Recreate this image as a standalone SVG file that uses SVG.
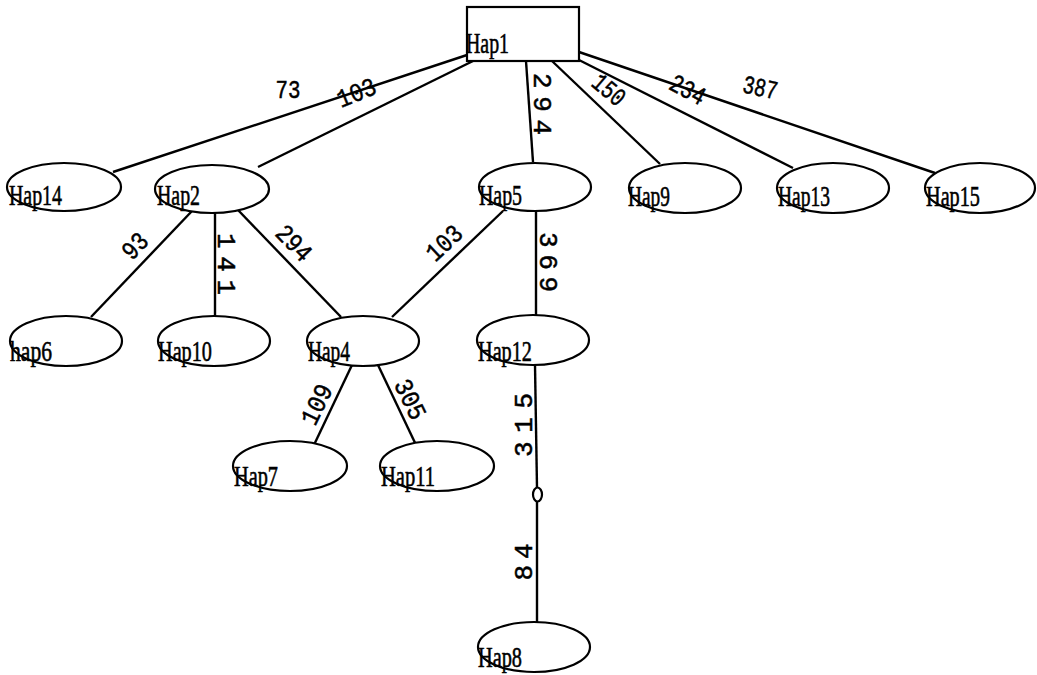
<svg xmlns="http://www.w3.org/2000/svg" width="1037" height="675" viewBox="0 0 1037 675">
<style>
.node{fill:#fff;stroke:#000;stroke-width:2.2}
.lbl{font-family:"Liberation Serif",serif;font-size:30px;fill:#000;stroke:#000;stroke-width:0.6}
.edge{stroke:#000;stroke-width:2.4;fill:none}
.num{font-family:"Liberation Mono",monospace;font-size:26px;fill:#000;stroke:#000;stroke-width:0.5;text-anchor:middle;dominant-baseline:central}
</style>
<rect width="1037" height="675" fill="#fff"/>
<g id="connectors">
<line class="edge" x1="467" y1="55" x2="113" y2="172"/>
<line class="edge" x1="473" y1="61" x2="258" y2="167"/>
<line class="edge" x1="526" y1="61" x2="533" y2="162"/>
<line class="edge" x1="552" y1="61" x2="660" y2="164"/>
<line class="edge" x1="579" y1="60" x2="793" y2="168"/>
<line class="edge" x1="579" y1="52" x2="935" y2="173"/>
<line class="edge" x1="192" y1="211" x2="91" y2="317"/>
<line class="edge" x1="215" y1="212" x2="215" y2="316"/>
<line class="edge" x1="238" y1="210" x2="341" y2="317"/>
<line class="edge" x1="503" y1="211" x2="392" y2="317"/>
<line class="edge" x1="536" y1="212" x2="536" y2="316"/>
<line class="edge" x1="352" y1="365" x2="303" y2="468"/>
<line class="edge" x1="378" y1="365" x2="427" y2="468"/>
<line class="edge" x1="535" y1="365" x2="537" y2="488"/>
<line class="edge" x1="537" y1="501" x2="537" y2="622"/>
<ellipse class="node" cx="537.5" cy="494.5" rx="4.5" ry="7"/>
<text class="num" transform="translate(288,91)" textLength="25" lengthAdjust="spacingAndGlyphs">73</text>
<text class="num" transform="translate(357,94) rotate(-22)" textLength="40" lengthAdjust="spacingAndGlyphs">103</text>
<text class="num" transform="translate(541,104) rotate(90)" textLength="62" lengthAdjust="spacing">294</text>
<text class="num" transform="translate(608,91) rotate(40)" textLength="35" lengthAdjust="spacingAndGlyphs">150</text>
<text class="num" transform="translate(687,91) rotate(28)" textLength="37" lengthAdjust="spacingAndGlyphs">234</text>
<text class="num" transform="translate(760,89) rotate(12)" textLength="35" lengthAdjust="spacingAndGlyphs">387</text>
<text class="num" transform="translate(136,247) rotate(-46)" textLength="26" lengthAdjust="spacingAndGlyphs">93</text>
<text class="num" transform="translate(225,264) rotate(90)" textLength="62" lengthAdjust="spacing">141</text>
<text class="num" transform="translate(293,244) rotate(46)" textLength="40" lengthAdjust="spacingAndGlyphs">294</text>
<text class="num" transform="translate(445,244) rotate(-43)" textLength="40" lengthAdjust="spacingAndGlyphs">103</text>
<text class="num" transform="translate(547,262) rotate(90)" textLength="60" lengthAdjust="spacing">369</text>
<text class="num" transform="translate(318,405) rotate(-64)" textLength="42" lengthAdjust="spacingAndGlyphs">109</text>
<text class="num" transform="translate(409,400) rotate(64)" textLength="42" lengthAdjust="spacingAndGlyphs">305</text>
<text class="num" transform="translate(525,425) rotate(-90)" textLength="64" lengthAdjust="spacing">315</text>
<text class="num" transform="translate(525,562) rotate(-90)" textLength="37" lengthAdjust="spacing">84</text>
</g>
<g id="Hap1"><rect class="node" x="467" y="7" width="112" height="54"/><text class="lbl" x="466" y="53" textLength="43" lengthAdjust="spacingAndGlyphs">Hap1</text></g>
<g id="Hap14"><ellipse class="node" cx="64" cy="187" rx="57" ry="24"/><text class="lbl" x="9" y="205" textLength="53" lengthAdjust="spacingAndGlyphs">Hap14</text></g>
<g id="Hap2"><ellipse class="node" cx="212" cy="189" rx="57" ry="24"/><text class="lbl" x="157" y="205" textLength="43" lengthAdjust="spacingAndGlyphs">Hap2</text></g>
<g id="Hap5"><ellipse class="node" cx="535" cy="187" rx="56" ry="24"/><text class="lbl" x="479" y="205" textLength="43" lengthAdjust="spacingAndGlyphs">Hap5</text></g>
<g id="Hap9"><ellipse class="node" cx="685" cy="188" rx="56" ry="25"/><text class="lbl" x="628" y="206" textLength="42" lengthAdjust="spacingAndGlyphs">Hap9</text></g>
<g id="Hap13"><ellipse class="node" cx="833" cy="188" rx="56" ry="25"/><text class="lbl" x="778" y="206" textLength="52" lengthAdjust="spacingAndGlyphs">Hap13</text></g>
<g id="Hap15"><ellipse class="node" cx="980" cy="188" rx="55" ry="25"/><text class="lbl" x="926" y="206" textLength="54" lengthAdjust="spacingAndGlyphs">Hap15</text></g>
<g id="hap6"><ellipse class="node" cx="66" cy="341" rx="56" ry="25"/><text class="lbl" x="10" y="361" textLength="42" lengthAdjust="spacingAndGlyphs">hap6</text></g>
<g id="Hap10"><ellipse class="node" cx="214" cy="341" rx="56" ry="25"/><text class="lbl" x="158" y="361" textLength="54" lengthAdjust="spacingAndGlyphs">Hap10</text></g>
<g id="Hap4"><ellipse class="node" cx="363" cy="341" rx="56" ry="25"/><text class="lbl" x="308" y="361" textLength="42" lengthAdjust="spacingAndGlyphs">Hap4</text></g>
<g id="Hap12"><ellipse class="node" cx="533" cy="340" rx="56" ry="25"/><text class="lbl" x="478" y="361" textLength="54" lengthAdjust="spacingAndGlyphs">Hap12</text></g>
<g id="Hap7"><ellipse class="node" cx="290" cy="466" rx="57" ry="25"/><text class="lbl" x="234" y="486" textLength="44" lengthAdjust="spacingAndGlyphs">Hap7</text></g>
<g id="Hap11"><ellipse class="node" cx="437" cy="466" rx="57" ry="25"/><text class="lbl" x="381" y="486" textLength="54" lengthAdjust="spacingAndGlyphs">Hap11</text></g>
<g id="Hap8"><ellipse class="node" cx="534" cy="647" rx="56" ry="25"/><text class="lbl" x="478" y="667" textLength="44" lengthAdjust="spacingAndGlyphs">Hap8</text></g>
</svg>
